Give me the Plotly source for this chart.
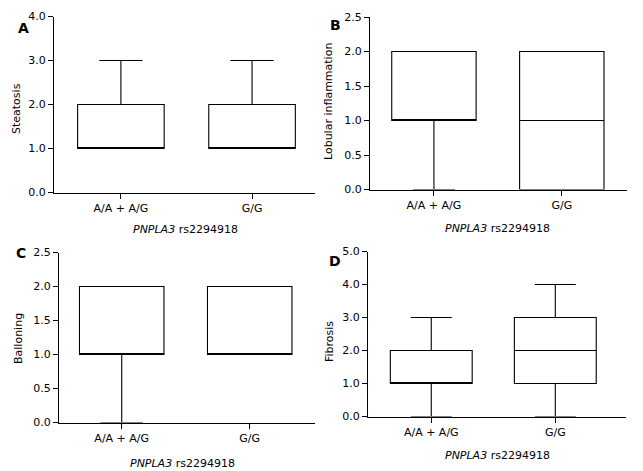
import plotly.graph_objects as go

W, H = 643, 471
OFF = 8  # page body margin offset, pixels
categories = ["A/A + A/G", "G/G"]

# Box statistics per panel: q1, median, q3, lower fence, upper fence
steatosis = dict(q1=[1.0, 1.0], median=[1.0, 1.0], q3=[2.0, 2.0], lo=[1.0, 1.0], hi=[3.0, 3.0])
lobular = dict(q1=[1.0, 0.0], median=[1.0, 1.0], q3=[2.0, 2.0], lo=[0.0, 0.0], hi=[2.0, 2.0])
ballooning = dict(q1=[1.0, 1.0], median=[1.0, 1.0], q3=[2.0, 2.0], lo=[0.0, 1.0], hi=[2.0, 2.0])
fibrosis = dict(q1=[1.0, 1.0], median=[1.0, 2.0], q3=[2.0, 3.0], lo=[0.0, 0.0], hi=[3.0, 4.0])

y_titles = ["Steatosis", "Lobular inflammation", "Balloning", "Fibrosis"]
letters = ["A", "B", "C", "D"]
x_title = "<i>PNPLA3</i> rs2294918"

# py = (top, bottom) in page pixels
panels = [
    dict(stats=steatosis, px=(54, 315), py=(16.5, 192.5), xr=[-0.51, 1.48], yr=[0, 4], dt=1.0,
         letter=(23, 28), ytitle=(17, 109), xtitle=(185, 229)),
    dict(stats=lobular, px=(370, 627), py=(17, 189.5), xr=[-0.5, 1.51], yr=[0, 2.5], dt=0.5,
         letter=(335, 25), ytitle=(329, 102), xtitle=(498, 228)),
    dict(stats=ballooning, px=(59, 315), py=(252.5, 422.5), xr=[-0.49, 1.51], yr=[0, 2.5], dt=0.5,
         letter=(21, 253), ytitle=(18, 339), xtitle=(182, 463)),
    dict(stats=fibrosis, px=(368, 626), py=(251.5, 416.5), xr=[-0.51, 1.57], yr=[0, 5], dt=1.0,
         letter=(335, 261), ytitle=(329, 342), xtitle=(498, 455)),
]


def fx(p):
    return (p - OFF) / W


def fy(p):
    return 1 - (p - OFF) / H


FONT = "DejaVu Sans"
LW = 1.1
fig = go.Figure()
annotations = []
for i, p in enumerate(panels):
    n = "" if i == 0 else str(i + 1)
    s = p["stats"]
    fig.add_trace(go.Box(
        x=categories, q1=s["q1"], median=s["median"], q3=s["q3"],
        lowerfence=s["lo"], upperfence=s["hi"],
        width=0.66, whiskerwidth=0.5, boxpoints=False,
        fillcolor="white", line=dict(color="black", width=LW),
        xaxis="x" + n, yaxis="y" + n, showlegend=False, hoverinfo="skip",
    ))
    axcommon = dict(showline=True, linecolor="black", linewidth=1.1, ticks="outside",
                    ticklen=5, tickwidth=1.1, tickcolor="black", showgrid=False, zeroline=False,
                    automargin=False, ticklabelstandoff=0,
                    tickfont=dict(family=FONT, size=11, color="black"))
    fig.update_layout(**{
        "xaxis" + n: dict(domain=[fx(p["px"][0]), fx(p["px"][1])], range=p["xr"],
                          anchor="y" + n, type="category", **axcommon),
        "yaxis" + n: dict(domain=[fy(p["py"][1]), fy(p["py"][0])], range=p["yr"],
                          anchor="x" + n, dtick=p["dt"], tick0=0, tickformat=".1f", **axcommon),
    })
    annotations.append(dict(text="<b>%s</b>" % letters[i], x=fx(p["letter"][0]), y=fy(p["letter"][1]),
                            xref="paper", yref="paper", showarrow=False, xanchor="center", yanchor="middle",
                            font=dict(family=FONT, size=14, color="black")))
    annotations.append(dict(text=y_titles[i], x=fx(p["ytitle"][0]), y=fy(p["ytitle"][1]),
                            xref="paper", yref="paper", showarrow=False, xanchor="center", yanchor="middle",
                            textangle=-90, font=dict(family=FONT, size=11, color="black")))
    annotations.append(dict(text=x_title, x=fx(p["xtitle"][0]), y=fy(p["xtitle"][1]),
                            xref="paper", yref="paper", showarrow=False, xanchor="center", yanchor="middle",
                            font=dict(family=FONT, size=11, color="black")))

fig.update_layout(width=W, height=H, margin=dict(l=0, r=0, t=0, b=0, pad=0, autoexpand=False),
                  paper_bgcolor="white", plot_bgcolor="white", annotations=annotations)
fig.write_html("out.html")
